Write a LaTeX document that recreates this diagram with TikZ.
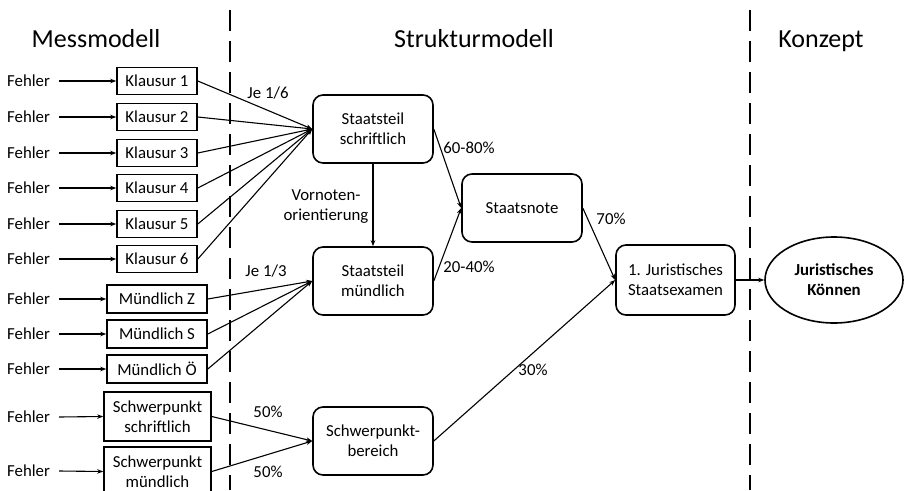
\documentclass[tikz,border=0pt]{standalone}
\usepackage{fontspec}
\setmainfont{Carlito}
\usetikzlibrary{arrows.meta,shapes.geometric}
\begin{document}
\begin{tikzpicture}[x=1pt,y=-1pt,
  every node/.style={font=\fontsize{16.8}{20}\selectfont},
  hdr/.style={font=\fontsize{26}{30}\selectfont,anchor=base,inner sep=0pt},
  sbox/.style={draw,line width=1.6pt,inner sep=0pt,align=center},
  rbox/.style={draw,line width=1.6pt,rounded corners=10pt,minimum width=120pt,minimum height=68pt,align=center,inner sep=0pt},
  fehler/.style={anchor=west,inner sep=0pt},
  arr/.style={line width=1.1pt,-{Stealth[length=6pt,width=4.5pt]}},
  lbl/.style={inner sep=0pt},
  sep/.style={line width=2.4pt,dash pattern=on 21pt off 10pt}]
\useasboundingbox (0,0) rectangle (905,490);
% separators
\draw[sep] (230,10) -- (230,490);
\draw[sep] (750,10) -- (750,490);
% headers
\node[hdr] (h1) at (96,47) {Messmodell};
\node[hdr] (h2) at (474,47) {Strukturmodell};
\node[hdr] (h3) at (821,47) {Konzept};
% Klausuren
\foreach \i/\y in {1/81,2/117,3/153,4/188,5/224,6/259}{
  \node[sbox,minimum width=80pt,minimum height=27pt] (k\i) at (157,\y) {Klausur \i};
  \node[fehler] (fk\i) at (7,\y) {Fehler};
  \draw[arr] ([xshift=9pt]fk\i.east) -- (k\i.west);
}
% Muendlich
\foreach \n/\t/\y in {z/Z/299,s/S/334,o/Ö/369}{
  \node[sbox,minimum width=100pt,minimum height=28pt] (m\n) at (157,\y) {Mündlich \t};
  \node[fehler] (fm\n) at (7,\y) {Fehler};
  \draw[arr] ([xshift=9pt]fm\n.east) -- (m\n.west);
}
% Schwerpunkt
\node[sbox,minimum width=107pt,minimum height=49pt] (ss) at (157.5,416.5) {Schwerpunkt\\schriftlich};
\node[sbox,minimum width=107pt,minimum height=49pt] (sm) at (157.5,471.5) {Schwerpunkt\\mündlich};
\node[fehler] (fss) at (7,417) {Fehler};
\node[fehler] (fsm) at (7,471) {Fehler};
\draw[arr] ([xshift=9pt]fss.east) -- (ss.west);
\draw[arr] ([xshift=9pt]fsm.east) -- (sm.west);
% structure nodes
\node[rbox] (sts) at (373,129) {Staatsteil\\schriftlich};
\node[rbox] (stm) at (373,281) {Staatsteil\\mündlich};
\node[rbox] (sn) at (522,208) {Staatsnote};
\node[rbox] (spb) at (373,441) {Schwerpunkt-\\bereich};
\node[rbox,minimum width=119pt,minimum height=70pt] (jse) at (675.5,280) {1. Juristisches\\Staatsexamen};
\node[draw,line width=1.6pt,ellipse,minimum width=138pt,minimum height=86pt,inner sep=0pt,align=center,font=\fontsize{16.8}{20}\selectfont\bfseries] (jk) at (834,280) {Juristisches\\Können};
% connectors
\foreach \i in {1,...,6}{\draw[arr] (k\i.east) -- (sts.west);}
\foreach \n in {z,s,o}{\draw[arr] (m\n.east) -- (stm.west);}
\draw[arr] (ss.east) -- (spb.west);
\draw[arr] (sm.east) -- (spb.west);
\draw[arr] (sts.south) -- (stm.north);
\draw[arr] (sts.east) -- (sn.west);
\draw[arr] (stm.east) -- (sn.west);
\draw[arr] (sn.east) -- (jse.west);
\draw[arr] (spb.east) -- (jse.west);
\draw[arr] (jse.east) -- (jk.west);
% labels
\node[lbl] (l1) at (268,93) {Je 1/6};
\node[lbl] (l2) at (266,271) {Je 1/3};
\node[lbl,align=center] (l3) at (326,207) {Vornoten-\\orientierung};
\node[lbl] (l4) at (469,148) {60-80\%};
\node[lbl] (l5) at (469,267) {20-40\%};
\node[lbl] (l6) at (611,219) {70\%};
\node[lbl] (l7) at (533,370) {30\%};
\node[lbl] (l8) at (268,412) {50\%};
\node[lbl] (l9) at (268,472) {50\%};
\end{tikzpicture}
\end{document}
